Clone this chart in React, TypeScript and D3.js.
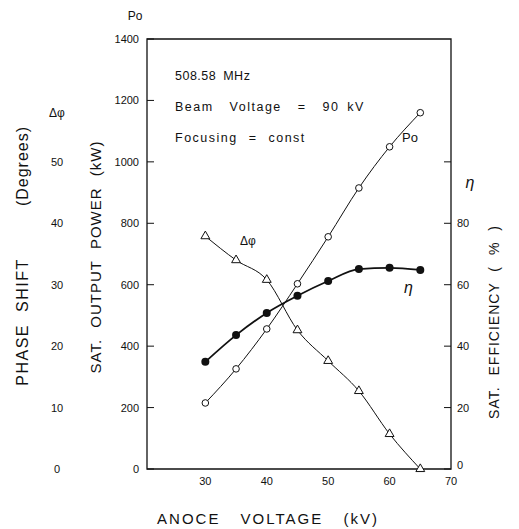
import React, { useRef, useEffect } from 'react';
import * as d3 from 'd3';

// anode voltage (kV)
const voltage = [30, 35, 40, 45, 50, 55, 60, 65];
// saturated output power Po (kW)
const power = [215, 326, 456, 603, 756, 915, 1049, 1160];
// saturated efficiency (%)
const efficiency = [34.9, 43.6, 50.8, 56.4, 61.2, 65.1, 65.5, 64.8];
// phase shift (degrees)
const phase = [37.9, 34.0, 30.8, 22.6, 17.6, 12.7, 5.7, 0];

const powerTicks = [0, 200, 400, 600, 800, 1000, 1200, 1400];
const phaseTicks = [0, 10, 20, 30, 40, 50];
const effTicks = [0, 20, 40, 60, 80, 100];
const effLabels = ['0', '20', '40', '60', '80', ''];
const voltTicks = [30, 40, 50, 60, 70];

const notes = ['508.58 MHz', 'Beam  Voltage  =  90 kV', 'Focusing = const'];

const App = () => {
  const ref = useRef(null);

  useEffect(() => {
    if (!ref.current) return;
    d3.select(ref.current).selectAll('*').remove();

    const width = 519;
    const height = 529;
    const font = 'Liberation Sans, Arial, sans-serif';

    const x = d3.scaleLinear().domain([20.5, 70]).range([147, 451]);
    const yP = d3.scaleLinear().domain([0, 1400]).range([469, 39]);
    const yPh = d3.scaleLinear().domain([0, 70]).range([469, 39]);
    const yE = d3.scaleLinear().domain([0, 140]).range([469, 39]);

    const svg = d3.select(ref.current)
      .append('svg')
        .attr('width', width)
        .attr('height', height)
        .style('position', 'absolute')
        .style('left', 0)
        .style('top', 0)
        .style('background', '#fff')
        .style('font-family', font);

    const ink = '#111';

    // frame
    const [x0, x1] = x.range();
    const [yb, yt] = yP.range();
    svg.append('path')
      .attr('d', `M${x0},${yt}H${x1}V${yb}H${x0}Z`)
      .attr('fill', 'none')
      .attr('stroke', ink)
      .attr('stroke-width', 1.3);

    // left ticks (power)
    svg.selectAll('.pt')
      .data(powerTicks)
      .join('line')
        .attr('x1', x0).attr('x2', x0 + 7)
        .attr('y1', d => yP(d)).attr('y2', d => yP(d))
        .attr('stroke', ink);
    svg.selectAll('.pl')
      .data(powerTicks)
      .join('text')
        .attr('x', x0 - 8)
        .attr('y', d => yP(d) + 4)
        .attr('text-anchor', 'end')
        .attr('font-size', 11)
        .attr('fill', ink)
        .text(d => d);

    // phase tick labels
    svg.selectAll('.phl')
      .data(phaseTicks)
      .join('text')
        .attr('x', 57)
        .attr('y', d => yPh(d) + 4)
        .attr('text-anchor', 'middle')
        .attr('font-size', 11)
        .attr('fill', ink)
        .text(d => d);

    // right ticks (efficiency)
    svg.selectAll('.et')
      .data(effTicks)
      .join('line')
        .attr('x1', x1 - 7).attr('x2', x1)
        .attr('y1', d => yE(d)).attr('y2', d => yE(d))
        .attr('stroke', ink);
    svg.selectAll('.el')
      .data(effTicks)
      .join('text')
        .attr('x', x1 + 6)
        .attr('y', (d, i) => yE(d) + (i === 0 ? 0 : 4))
        .attr('font-size', 11)
        .attr('fill', ink)
        .text((d, i) => effLabels[i]);

    // bottom tick labels
    svg.selectAll('.vl')
      .data(voltTicks)
      .join('text')
        .attr('x', d => x(d))
        .attr('y', 485)
        .attr('text-anchor', 'middle')
        .attr('font-size', 11)
        .attr('fill', ink)
        .text(d => d);

    // axis titles
    svg.append('text')
      .attr('x', 268).attr('y', 524)
      .attr('text-anchor', 'middle')
      .attr('font-size', 15)
      .attr('letter-spacing', 2)
      .attr('word-spacing', 14)
      .attr('fill', ink)
      .text('ANOCE VOLTAGE (kV)');

    const vTitle = (cx, cy, txt, size, spacing, wordSp) => {
      svg.append('text')
        .attr('transform', `translate(${cx},${cy}) rotate(-90)`)
        .attr('text-anchor', 'middle')
        .attr('font-size', size)
        .attr('letter-spacing', spacing)
        .attr('word-spacing', wordSp)
        .attr('fill', ink)
        .text(txt);
    };
    vTitle(28, 322, 'PHASE SHIFT', 16, 1.5, 6);
    vTitle(28, 166, '(Degrees)', 16, 1, 0);
    vTitle(101, 257, 'SAT. OUTPUT POWER (kW)', 15, 1, 6);
    vTitle(499, 322, 'SAT. EFFICIENCY ( % )', 14, 1, 6);

    svg.append('text').attr('x', 135).attr('y', 20)
      .attr('text-anchor', 'middle').attr('font-size', 12).attr('fill', ink).text('Po');
    svg.append('text').attr('x', 57).attr('y', 117)
      .attr('text-anchor', 'middle').attr('font-size', 12).attr('fill', ink).text('Δφ');
    svg.append('text').attr('x', 470).attr('y', 188)
      .attr('text-anchor', 'middle').attr('font-size', 16).attr('font-style', 'italic')
      .attr('fill', ink).text('η');

    // notes
    svg.selectAll('.note')
      .data(notes)
      .join('text')
        .attr('x', 175)
        .attr('y', (d, i) => 80 + i * 31)
        .attr('font-size', 12.5)
        .attr('letter-spacing', (d, i) => (i === 0 ? 0.5 : 1.5))
        .attr('word-spacing', (d, i) => (i === 2 ? 6 : 3))
        .attr('fill', ink)
        .style('white-space', 'pre')
        .text(d => d);

    const rows = voltage.map((v, i) => ({ v, p: power[i], e: efficiency[i], ph: phase[i] }));

    const line = (fy) => d3.line()
      .x(d => x(d.v))
      .y(fy)
      .curve(d3.curveMonotoneX);

    svg.append('path')
      .datum(rows)
      .attr('d', line(d => yP(d.p)))
      .attr('fill', 'none').attr('stroke', ink).attr('stroke-width', 1);
    svg.append('path')
      .datum(rows)
      .attr('d', line(d => yPh(d.ph)))
      .attr('fill', 'none').attr('stroke', ink).attr('stroke-width', 1);
    svg.append('path')
      .datum(rows)
      .attr('d', line(d => yE(d.e)))
      .attr('fill', 'none').attr('stroke', ink).attr('stroke-width', 1.8);

    // markers
    svg.selectAll('.pm')
      .data(rows)
      .join('circle')
        .attr('cx', d => x(d.v)).attr('cy', d => yP(d.p)).attr('r', 3.3)
        .attr('fill', '#fff').attr('stroke', ink).attr('stroke-width', 1);
    const tri = d3.symbol().type(d3.symbolTriangle).size(34);
    svg.selectAll('.tm')
      .data(rows)
      .join('path')
        .attr('transform', d => `translate(${x(d.v)},${yPh(d.ph)})`)
        .attr('d', tri)
        .attr('fill', '#fff').attr('stroke', ink).attr('stroke-width', 1);
    svg.selectAll('.em')
      .data(rows)
      .join('circle')
        .attr('cx', d => x(d.v)).attr('cy', d => yE(d.e)).attr('r', 4)
        .attr('fill', ink);

    // curve labels
    svg.append('text').attr('x', 402).attr('y', 142)
      .attr('font-size', 13).attr('fill', ink).text('Po');
    svg.append('text').attr('x', 240).attr('y', 245)
      .attr('font-size', 12).attr('fill', ink).text('Δφ');
    svg.append('text').attr('x', 404).attr('y', 293)
      .attr('font-size', 16).attr('font-style', 'italic').attr('fill', ink).text('η');
  }, []);

  return <div ref={ref} />;
};

export default App;
